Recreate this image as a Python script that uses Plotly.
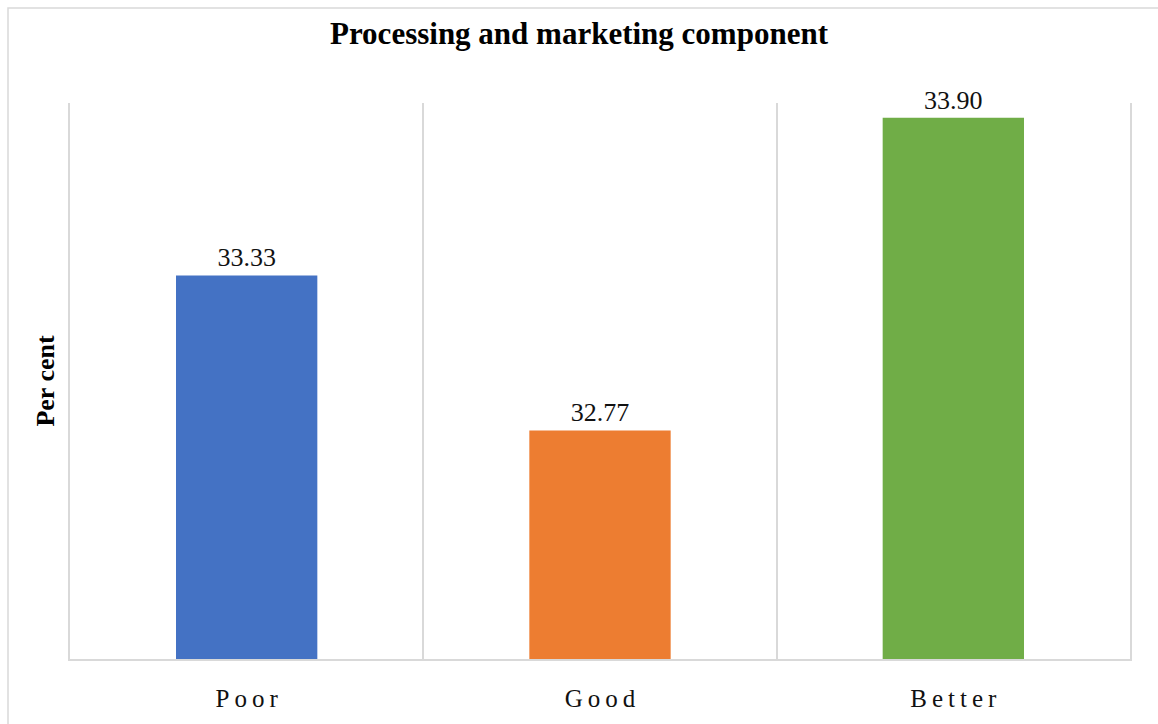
import plotly.graph_objects as go

# Share of respondents by rating of the processing and marketing component
categories = ["Poor", "Good", "Better"]
percent = [33.33, 32.77, 33.90]
bar_colors = ["#4472C4", "#ED7D31", "#70AD47"]

# Letter-spaced category labels, as in the report style
spaced_labels = ["\u2009".join(c) for c in categories]

W, H = 1158, 724
L, R, T, B = 70, 28, 103, 59
pw, ph = W - L - R, H - T - B

SERIF = "Liberation Serif"
GRID = "#d9d9d9"

fig = go.Figure(
    go.Bar(
        x=categories,
        y=percent,
        marker=dict(color=bar_colors, line=dict(width=0)),
        text=[f"{v:.2f}" for v in percent],
        textposition="outside",
        textfont=dict(family=SERIF, size=26, color="#111111"),
        cliponaxis=False,
        width=0.4,
    )
)

fig.update_layout(
    width=W,
    height=H,
    margin=dict(l=L, r=R, t=T, b=B),
    paper_bgcolor="white",
    plot_bgcolor="white",
    showlegend=False,
    title=dict(
        text="<b>Processing and marketing component</b>",
        x=0.5,
        xanchor="center",
        y=1 - 33 / H,
        yanchor="middle",
        font=dict(family=SERIF, size=31, color="#000000"),
    ),
    xaxis=dict(
        tickmode="array",
        tickvals=categories,
        ticktext=spaced_labels,
        tickson="boundaries",
        showgrid=True,
        gridcolor=GRID,
        gridwidth=1.5,
        showline=True,
        linecolor=GRID,
        linewidth=1.5,
        ticks="",
        ticklabelstandoff=16,
        tickfont=dict(family=SERIF, size=25, color="#111111"),
        range=[-0.5, 2.5],
    ),
    yaxis=dict(
        range=[31.944, 33.953],
        showgrid=False,
        showticklabels=False,
        showline=True,
        mirror=True,
        linecolor=GRID,
        linewidth=1.5,
        zeroline=False,
        ticks="",
        title=dict(
            text="<b>Per cent</b>",
            font=dict(family=SERIF, size=26, color="#000000"),
            standoff=6,
        ),
    ),
    shapes=[
        # outer chart-area border
        dict(
            type="rect",
            xref="paper",
            yref="paper",
            x0=(8 - L) / pw,
            x1=(1170 - L) / pw,
            y0=(H - B - 740) / ph,
            y1=(H - B - 7) / ph,
            line=dict(color=GRID, width=1.5),
            fillcolor="rgba(0,0,0,0)",
            layer="below",
        )
    ],
)

fig.write_html("out.html")
